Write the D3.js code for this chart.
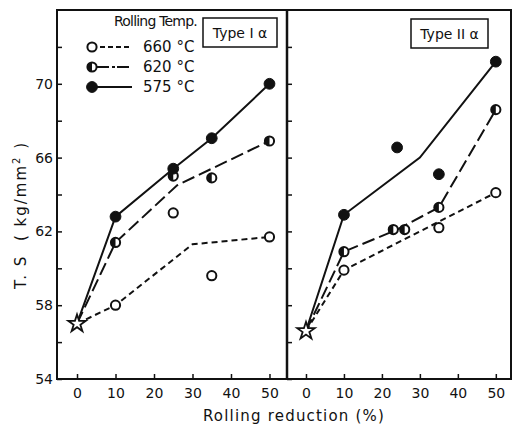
<!DOCTYPE html>
<html>
<head>
<meta charset="utf-8">
<script src="https://cdn.jsdelivr.net/npm/d3@7"></script>
<style>
  body { margin: 0; background: #fff; }
  text { font-family: "DejaVu Sans", sans-serif; fill: #111; }
</style>
</head>
<body>
<div id="chart"></div>
<script>
// ---- data ----
var temps = ["660 °C", "620 °C", "575 °C"];
var panels = ["Type I \u03b1", "Type II \u03b1"];

// Type I alpha : measured points
var t1_660_x = [10, 25, 35, 50],  t1_660_y = [58.0, 63.0, 59.6, 61.7];
var t1_620_x = [10, 25, 35, 50],  t1_620_y = [61.4, 65.0, 64.9, 66.9];
var t1_575_x = [10, 25, 35, 50],  t1_575_y = [62.8, 65.4, 67.05, 70.0];
// Type I alpha : drawn curves
var t1_660_lx = [0, 10, 30, 50],  t1_660_ly = [57.0, 58.0, 61.3, 61.7];
var t1_620_lx = [0, 10, 26, 50],  t1_620_ly = [57.0, 61.4, 64.5, 66.9];
var t1_575_lx = [0, 10, 25, 35, 50], t1_575_ly = [57.0, 62.8, 65.4, 67.05, 70.0];
var t1_start = 57.0;

// Type II alpha : measured points
var t2_660_x = [10, 35, 50],          t2_660_y = [59.9, 62.2, 64.1];
var t2_620_x = [10, 23, 26, 35, 50],  t2_620_y = [60.9, 62.1, 62.1, 63.3, 68.6];
var t2_575_x = [10, 24, 35, 50],      t2_575_y = [62.9, 66.55, 65.1, 71.2];
// Type II alpha : drawn curves
var t2_660_lx = [0, 10, 50],          t2_660_ly = [56.6, 59.9, 64.1];
var t2_620_lx = [0, 10, 24, 35, 50],  t2_620_ly = [56.6, 60.9, 62.1, 63.3, 68.6];
var t2_575_lx = [0, 10, 30, 50],      t2_575_ly = [56.6, 62.9, 66.0, 71.2];
var t2_start = 56.6;

var xTicks = [0, 10, 20, 30, 40, 50];
var yTicks = [54, 56, 58, 60, 62, 64, 66, 68, 70, 72];
var yLabels = [54, 58, 62, 66, 70];

function zip(xs, ys) { return xs.map(function(x, i) { return {x: x, y: ys[i]}; }); }

var series = [
  [ // panel 1
    {pts: zip(t1_660_x, t1_660_y), line: zip(t1_660_lx, t1_660_ly), t: 0},
    {pts: zip(t1_620_x, t1_620_y), line: zip(t1_620_lx, t1_620_ly), t: 1},
    {pts: zip(t1_575_x, t1_575_y), line: zip(t1_575_lx, t1_575_ly), t: 2}
  ],
  [ // panel 2
    {pts: zip(t2_660_x, t2_660_y), line: zip(t2_660_lx, t2_660_ly), t: 0},
    {pts: zip(t2_620_x, t2_620_y), line: zip(t2_620_lx, t2_620_ly), t: 1},
    {pts: zip(t2_575_x, t2_575_y), line: zip(t2_575_lx, t2_575_ly), t: 2}
  ]
];
var starts = [t1_start, t2_start];

// ---- layout ----
var W = 514, H = 427;
var yTop = 10, yBot = 379;
var xLeft = 57, xMid = 287, xRight = 511;

var dashes = ["6,4", "13,5", null];

var svg = d3.select("#chart").append("svg")
  .attr("width", W).attr("height", H);

var yScale = d3.scaleLinear().domain([54, 74]).range([yBot, yTop]);
var xScales = [
  d3.scaleLinear().domain([-5.2, 54.55]).range([xLeft, xMid]),
  d3.scaleLinear().domain([-5, 54]).range([xMid, xRight])
];

var line = d3.line();

function marker(g, t, cx, cy) {
  var r = 4.6;
  if (t == 0) {
    g.append("circle").attr("cx", cx).attr("cy", cy).attr("r", r)
      .attr("fill", "#fff").attr("stroke", "#111").attr("stroke-width", 2);
  } else if (t == 1) {
    g.append("circle").attr("cx", cx).attr("cy", cy).attr("r", r)
      .attr("fill", "#fff").attr("stroke", "#111").attr("stroke-width", 2);
    g.append("path")
      .attr("d", "M" + cx + "," + (cy - r) + " A" + r + "," + r + " 0 0,0 " + cx + "," + (cy + r) + " Z")
      .attr("fill", "#111");
  } else {
    g.append("circle").attr("cx", cx).attr("cy", cy).attr("r", r + 0.8)
      .attr("fill", "#111").attr("stroke", "#111").attr("stroke-width", 1);
  }
}

panels.forEach(function(name, p) {
  var x = xScales[p];
  var g = svg.append("g");

  // bottom ticks (inward) and labels
  var xAxis = d3.axisBottom(x).tickValues(xTicks).tickSize(-5).tickPadding(9);
  g.append("g").attr("transform", "translate(0," + yBot + ")").call(xAxis)
    .call(function(a) {
      a.select(".domain").remove();
      a.selectAll("line").attr("stroke", "#111").attr("stroke-width", 1.5);
      a.selectAll("text").attr("font-size", 14).attr("font-family", "DejaVu Sans");
    });

  // left ticks (inward)
  var yAxis = d3.axisLeft(yScale).tickValues(yTicks).tickSize(-5)
    .tickFormat(function(d) { return (p == 0 && yLabels.indexOf(d) >= 0) ? d : ""; })
    .tickPadding(4);
  g.append("g").attr("transform", "translate(" + x.range()[0] + ",0)").call(yAxis)
    .call(function(a) {
      a.select(".domain").remove();
      a.selectAll("line").attr("stroke", "#111").attr("stroke-width", 1.5);
      a.selectAll("text").attr("font-size", 14).attr("font-family", "DejaVu Sans");
    });

  // curves
  series[p].forEach(function(s) {
    g.append("path")
      .attr("d", line(s.line.map(function(d) { return [x(d.x), yScale(d.y)]; })))
      .attr("fill", "none").attr("stroke", "#111").attr("stroke-width", 2)
      .attr("stroke-dasharray", dashes[s.t]);
  });

  // points
  series[p].forEach(function(s) {
    s.pts.forEach(function(d) { marker(g, s.t, x(d.x), yScale(d.y)); });
  });

  // as-received star at 0 %
  g.append("path")
    .attr("d", d3.symbol().type(d3.symbolStar).size(95)())
    .attr("transform", "translate(" + x(0) + "," + yScale(starts[p]) + ")")
    .attr("fill", "#fff").attr("stroke", "#111").attr("stroke-width", 1.8);
});

// frame
svg.append("rect")
  .attr("x", xLeft).attr("y", yTop).attr("width", xRight - xLeft).attr("height", yBot - yTop)
  .attr("fill", "none").attr("stroke", "#111").attr("stroke-width", 2);
svg.append("line")
  .attr("x1", xMid).attr("x2", xMid).attr("y1", yTop).attr("y2", yBot)
  .attr("stroke", "#111").attr("stroke-width", 2.5);

// panel boxes
var boxes = [[203, 18, 74, 29], [411, 19, 77, 29]];
panels.forEach(function(name, p) {
  var b = boxes[p];
  svg.append("rect").attr("x", b[0]).attr("y", b[1]).attr("width", b[2]).attr("height", b[3])
    .attr("fill", "#fff").attr("stroke", "#111").attr("stroke-width", 1.5);
  svg.append("text").attr("x", b[0] + b[2] / 2).attr("y", b[1] + 20)
    .attr("text-anchor", "middle").attr("font-size", 14).text(name);
});

// legend
svg.append("text").attr("x", 114).attr("y", 26).attr("font-size", 14)
  .attr("letter-spacing", -0.8).text("Rolling Temp.");
var legY = [47, 67, 87];
temps.forEach(function(t, i) {
  var gy = legY[i];
  svg.append("line").attr("x1", 92).attr("x2", 132).attr("y1", gy).attr("y2", gy)
    .attr("stroke", "#111").attr("stroke-width", 2)
    .attr("stroke-dasharray", dashes[i] ? (i == 0 ? "5,3" : "3,2,12,3") : null);
  marker(svg, i, 92, gy);
  svg.append("text").attr("x", 143).attr("y", gy + 5).attr("font-size", 15).text(t);
});

// axis titles
svg.append("text").attr("x", 294).attr("y", 421).attr("text-anchor", "middle")
  .attr("font-size", 15).attr("letter-spacing", 1.2).text("Rolling reduction (%)");
svg.append("text").attr("transform", "translate(26,215) rotate(-90)")
  .attr("text-anchor", "middle").attr("font-size", 15).attr("letter-spacing", 2)
  .attr("xml:space", "preserve")
  .html('T. S  ( kg/mm<tspan dy="-6" font-size="10">2</tspan><tspan dy="6"> )</tspan>');
</script>
</body>
</html>
